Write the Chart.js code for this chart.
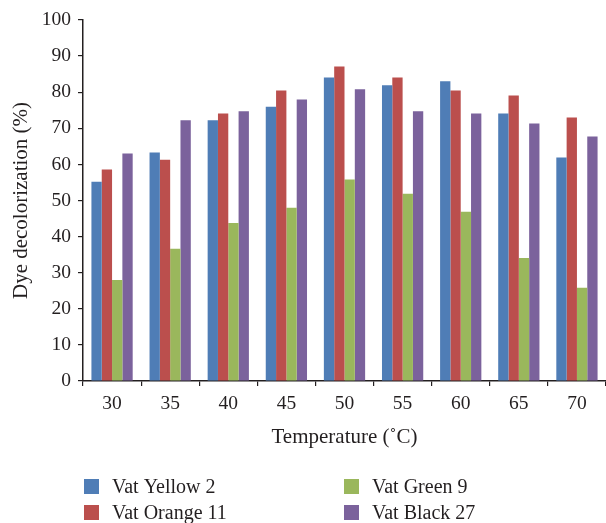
<!DOCTYPE html>
<html>
<head>
  <title>Dye decolorization vs temperature</title>
  <meta charset="utf-8" />
  <script src="https://cdn.jsdelivr.net/npm/chart.js@4.4.1/dist/chart.umd.min.js"></script>
  <style>
    html, body {
      margin: 0;
      padding: 0;
      background: #ffffff;
    }
    #wrap {
      width: 606px;
      height: 523px;
    }
  </style>
</head>
<body>
  <div id="wrap">
    <canvas id="dyeChart" width="606" height="523"></canvas>
  </div>
  <script>
    var temperatures = ['30', '35', '40', '45', '50', '55', '60', '65', '70'];
    var dyeNames = ['Vat Yellow 2', 'Vat Orange 11', 'Vat Green 9', 'Vat Black 27'];
    var vatYellow2 = [55.2, 63.3, 72.2, 76.0, 84.1, 81.9, 83.0, 74.1, 61.9];
    var vatOrange11 = [58.6, 61.3, 74.1, 80.5, 87.1, 84.1, 80.5, 79.1, 73.0];
    var vatGreen9 = [28.0, 36.6, 43.8, 48.0, 55.8, 51.9, 46.9, 34.1, 25.8];
    var vatBlack27 = [63.0, 72.2, 74.7, 78.0, 80.8, 74.7, 74.1, 71.3, 67.7];
    var yTicks = [0, 10, 20, 30, 40, 50, 60, 70, 80, 90, 100];

    var colors = ['#4f7db6', '#bb4f4d', '#9ab75c', '#7b629c'];
    var serif = '"Liberation Serif", "DejaVu Serif", serif';
    var ink = '#231f20';

    // legend in two columns, drawn under the axis title
    var twoColumnLegend = {
      id: 'twoColumnLegend',
      afterDraw: function(chart) {
        var ctx = chart.ctx;
        var left = chart.chartArea.left + 1;
        var cols = [left, left + 260];
        var rows = [479, 505];
        ctx.save();
        ctx.font = '20px ' + serif;
        ctx.textBaseline = 'alphabetic';
        ctx.textAlign = 'left';
        chart.data.datasets.forEach(function(ds, i) {
          var x = cols[Math.floor(i / 2)];
          var y = rows[i % 2];
          ctx.fillStyle = ds.backgroundColor;
          ctx.fillRect(x, y, 15, 15);
          ctx.fillStyle = ink;
          ctx.fillText(ds.label, x + 28, y + 14);
        });
        ctx.restore();
      }
    };

    var series = [vatYellow2, vatOrange11, vatGreen9, vatBlack27];

    new Chart(document.getElementById('dyeChart'), {
      type: 'bar',
      data: {
        labels: temperatures,
        datasets: series.map(function(values, i) {
          return {
            label: dyeNames[i],
            data: values,
            backgroundColor: colors[i],
            borderWidth: 0,
            categoryPercentage: 0.71,
            barPercentage: 1.0
          };
        })
      },
      options: {
        responsive: false,
        animation: false,
        layout: {
          padding: { top: 20, right: 0, left: 0, bottom: 73 }
        },
        plugins: {
          legend: { display: false },
          tooltip: { enabled: false }
        },
        scales: {
          x: {
            grid: {
              display: true,
              drawOnChartArea: false,
              drawTicks: true,
              tickLength: 5,
              color: ink,
              lineWidth: 1.2
            },
            border: { display: true, color: ink, width: 1.5 },
            ticks: {
              color: ink,
              padding: 6,
              font: { family: serif, size: 19.5 }
            },
            title: {
              display: true,
              text: 'Temperature (˚C)',
              color: ink,
              padding: { top: 4, bottom: 0 },
              font: { family: serif, size: 21 }
            },
            afterFit: function(scale) { scale.height = 69; }
          },
          y: {
            min: 0,
            max: 100,
            afterBuildTicks: function(scale) {
              scale.ticks = yTicks.map(function(v) { return { value: v }; });
            },
            grid: {
              display: true,
              drawOnChartArea: false,
              drawTicks: true,
              tickLength: 5,
              color: ink,
              lineWidth: 1.2
            },
            border: { display: true, color: ink, width: 1.5 },
            ticks: {
              color: ink,
              padding: 7,
              font: { family: serif, size: 19.5 }
            },
            title: {
              display: true,
              text: 'Dye decolorization (%)',
              color: ink,
              padding: { top: 9, bottom: 0 },
              font: { family: serif, size: 21 }
            },
            afterFit: function(scale) { scale.width = 83; }
          }
        }
      },
      plugins: [twoColumnLegend]
    });
  </script>
</body>
</html>
